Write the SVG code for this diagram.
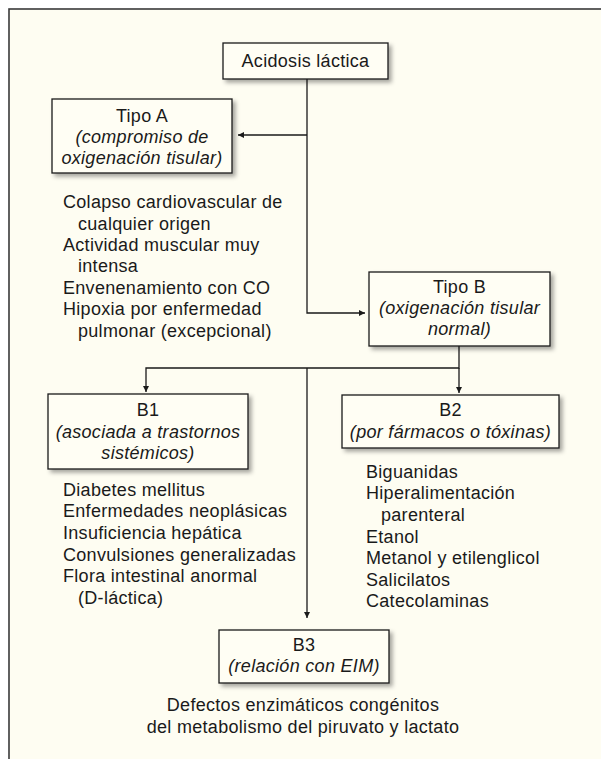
<svg xmlns="http://www.w3.org/2000/svg" width="601" height="759" viewBox="0 0 601 759">
<defs>
<filter id="sh" x="-10%" y="-10%" width="130%" height="140%">
<feDropShadow dx="3" dy="3" stdDeviation="2" flood-color="#000" flood-opacity="0.35"/>
</filter>
<marker id="ah" viewBox="0 0 10 10" refX="10" refY="5" markerWidth="9" markerHeight="6" markerUnits="userSpaceOnUse" orient="auto">
<path d="M0,0 L10,5 L0,10 z" fill="#1a1a1a"/>
</marker>
</defs>
<style>
text{font-family:"Liberation Sans",Arial,Helvetica,sans-serif;font-size:18px;letter-spacing:0.3px;fill:#1a1a1a}
.c{text-anchor:middle}
.i{font-style:italic}
.box{fill:#fffef4;stroke:#1a1a1a;stroke-width:1.3;filter:url(#sh)}
.ln{fill:none;stroke:#1a1a1a;stroke-width:1.3}
</style>
<rect x="0" y="0" width="601" height="759" fill="#ffffff"/>
<rect x="9" y="9" width="620" height="780" fill="#fefdf2" stroke="#3a3a3a" stroke-width="1.6"/>

<g id="connectors">
<path class="ln" d="M307,79 V313 H365" marker-end="url(#ah)"/>
<path class="ln" d="M307,135 H238" marker-end="url(#ah)"/>
<path class="ln" d="M459,346 V368 H146 V392" marker-end="url(#ah)"/>
<path class="ln" d="M459,368 V393" marker-end="url(#ah)"/>
<path class="ln" d="M307,368 V618" marker-end="url(#ah)"/>
</g>

<g id="acidosis">
<rect class="box" x="223" y="43" width="165" height="36"/>
<text class="c" x="305.5" y="66.5">Acidosis láctica</text>
</g>

<g id="tipoA">
<rect class="box" x="52" y="99" width="180" height="74"/>
<text class="c" x="142" y="122">Tipo A</text>
<text class="c i" x="142" y="143">(compromiso de</text>
<text class="c i" x="142" y="164">oxigenación tisular)</text>
</g>

<g id="tipoA-list">
<text x="63" y="208">Colapso cardiovascular de</text>
<text x="78" y="230">cualquier origen</text>
<text x="63" y="251">Actividad muscular muy</text>
<text x="78" y="272">intensa</text>
<text x="63" y="294">Envenenamiento con CO</text>
<text x="63" y="315">Hipoxia por enfermedad</text>
<text x="78" y="337">pulmonar (excepcional)</text>
</g>

<g id="tipoB">
<rect class="box" x="369" y="272" width="181" height="74"/>
<text class="c" x="459.5" y="293">Tipo B</text>
<text class="c i" x="459.5" y="314">(oxigenación tisular</text>
<text class="c i" x="459.5" y="335">normal)</text>
</g>

<g id="B1">
<rect class="box" x="48" y="394" width="200" height="75"/>
<text class="c" x="148" y="416">B1</text>
<text class="c i" x="148" y="438">(asociada a trastornos</text>
<text class="c i" x="148" y="459">sistémicos)</text>
</g>

<g id="B1-list">
<text x="63" y="496">Diabetes mellitus</text>
<text x="63" y="517">Enfermedades neoplásicas</text>
<text x="63" y="539">Insuficiencia hepática</text>
<text x="63" y="561">Convulsiones generalizadas</text>
<text x="63" y="582">Flora intestinal anormal</text>
<text x="78" y="604">(D-láctica)</text>
</g>

<g id="B2">
<rect class="box" x="342" y="395" width="217" height="53"/>
<text class="c" x="450.5" y="416">B2</text>
<text class="c i" x="450.5" y="438">(por fármacos o tóxinas)</text>
</g>

<g id="B2-list">
<text x="366" y="478">Biguanidas</text>
<text x="366" y="499">Hiperalimentación</text>
<text x="381" y="521">parenteral</text>
<text x="366" y="543">Etanol</text>
<text x="366" y="564">Metanol y etilenglicol</text>
<text x="366" y="586">Salicilatos</text>
<text x="366" y="607">Catecolaminas</text>
</g>

<g id="B3">
<rect class="box" x="219" y="630" width="170" height="53"/>
<text class="c" x="304" y="651">B3</text>
<text class="c i" x="304" y="672">(relación con EIM)</text>
</g>

<g id="B3-list">
<text class="c" x="303" y="711">Defectos enzimáticos congénitos</text>
<text class="c" x="303" y="733">del metabolismo del piruvato y lactato</text>
</g>
</svg>
